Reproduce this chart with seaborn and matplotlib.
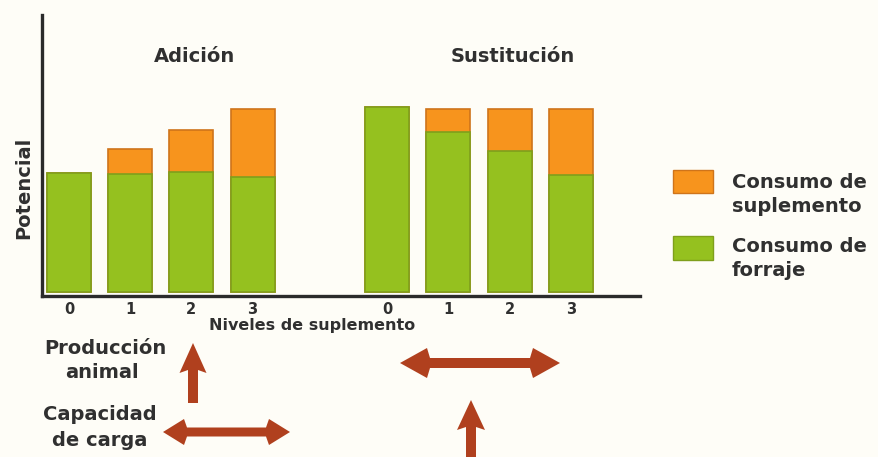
import matplotlib
matplotlib.use("Agg")
import matplotlib.pyplot as plt
import seaborn as sns
import pandas as pd
from matplotlib.patches import Polygon, Rectangle

# Supplement levels and consumption per strategy (arbitrary "potential" units)
niveles = ["0", "1", "2", "3"]
adicion_forraje = [119, 118, 120, 115]
adicion_suplemento = [0, 25, 42, 68]
sustitucion_forraje = [185, 160, 141, 117]
sustitucion_suplemento = [0, 23, 42, 66]
grupos = ["Adición", "Sustitución"]
leyenda = ["Consumo de\nsuplemento", "Consumo de\nforraje"]

BG = "#fefdf7"
GREEN = "#95c11f"
ORANGE = "#f7941d"
ARROW = "#b0401e"
TEXT = "#303030"

# bar positions: two groups of four with a gap between them
gap = 1.2
pos = [i for i in range(len(niveles))] + [i + len(niveles) + gap for i in range(len(niveles))]

df = pd.DataFrame({
    "pos": pos,
    "forraje": adicion_forraje + sustitucion_forraje,
    "suplemento": adicion_suplemento + sustitucion_suplemento,
})
df["total"] = df["forraje"] + df["suplemento"]

sns.set_theme(style="white")
plt.rcParams["font.family"] = ["DejaVu Sans"]
plt.rcParams["font.weight"] = "bold"

W, H = 879, 457
fig = plt.figure(figsize=(W / 100, H / 100), dpi=100, facecolor=BG)
ax = fig.add_axes([42 / W, 1 - 296 / H, (640 - 42) / W, (296 - 15) / H])
ax.set_facecolor(BG)

# stacked bars: total (supplement on top) first, forage drawn over it
sns.barplot(data=df, x="pos", y="total", native_scale=True, width=0.72,
            color=ORANGE, saturation=1, errorbar=None,
            edgecolor="#cf741a", linewidth=1.2, ax=ax)
sns.barplot(data=df, x="pos", y="forraje", native_scale=True, width=0.72,
            color=GREEN, saturation=1, errorbar=None,
            edgecolor="#7f9f1c", linewidth=1.2, ax=ax)

ax.set_xlim(-0.44, 9.33)
ax.set_ylim(-4, 277)
ax.set_xticks(pos)
ax.set_xticklabels(niveles * 2, fontsize=10.5, fontweight="bold", color=TEXT)
ax.set_yticks([])
ax.tick_params(axis="x", length=0, pad=4)
for side in ["top", "right"]:
    ax.spines[side].set_visible(False)
for side in ["left", "bottom"]:
    ax.spines[side].set_linewidth(2.4)
    ax.spines[side].set_color("#2b2b2b")

ax.set_xlabel("Niveles de suplemento", fontsize=11.5, fontweight="bold", color=TEXT)
ax.xaxis.set_label_coords((312 - 42) / 598, -0.08)
ax.set_ylabel("Potencial", fontsize=14, fontweight="bold", color=TEXT)
ax.yaxis.set_label_coords(-0.015, (296 - 188) / 281)

ax.text((195 - 42) / 598, (296 - 57) / 281, grupos[0], transform=ax.transAxes,
        ha="center", va="center", fontsize=14, fontweight="bold", color=TEXT)
ax.text((513 - 42) / 598, (296 - 57) / 281, grupos[1], transform=ax.transAxes,
        ha="center", va="center", fontsize=14, fontweight="bold", color=TEXT)

# overlay in pixel coordinates for legend, annotations and arrows
ov = fig.add_axes([0, 0, 1, 1])
ov.set_xlim(0, W)
ov.set_ylim(H, 0)
ov.axis("off")
ov.patch.set_visible(False)

ov.add_patch(Rectangle((673, 170), 40, 23, facecolor=ORANGE, edgecolor="#cf741a", lw=1))
ov.add_patch(Rectangle((673, 236), 40, 24, facecolor=GREEN, edgecolor="#7f9f1c", lw=1))
for (l1, l2), y1, y2 in [(leyenda[0].split("\n"), 183, 207), (leyenda[1].split("\n"), 246, 270)]:
    ov.text(732, y1, l1, ha="left", va="center", fontsize=14, fontweight="bold", color=TEXT)
    ov.text(732, y2, l2, ha="left", va="center", fontsize=14, fontweight="bold", color=TEXT)

for txt, x, y in [("Producción", 105, 348), ("animal", 102, 373),
                  ("Capacidad", 100, 415), ("de carga", 100, 440)]:
    ov.text(x, y, txt, ha="center", va="center", fontsize=14, fontweight="bold", color=TEXT)


def double_arrow(x0, x1, yc, L, Hh, t):
    pts = [(x0, yc), (x0 + L - 3, yc - Hh), (x0 + L, yc - t), (x1 - L, yc - t),
           (x1 - L + 3, yc - Hh), (x1, yc), (x1 - L + 3, yc + Hh), (x1 - L, yc + t),
           (x0 + L, yc + t), (x0 + L - 3, yc + Hh)]
    ov.add_patch(Polygon(pts, closed=True, facecolor=ARROW, edgecolor="none"))


def up_arrow(xc, ytip, ybase, ybot, Wh, t):
    pts = [(xc, ytip), (xc + Wh, ybase + 3), (xc + t, ybase), (xc + t, ybot),
           (xc - t, ybot), (xc - t, ybase), (xc - Wh, ybase + 3)]
    ov.add_patch(Polygon(pts, closed=True, facecolor=ARROW, edgecolor="none"))


double_arrow(400, 560, 363, 30, 15, 5)
double_arrow(163, 290, 432, 24, 13, 4.5)
up_arrow(193, 343, 370, 403, 13.5, 5)
up_arrow(471, 400, 427, 460, 14, 5)

fig.savefig("out.png", dpi=100, facecolor=BG)
